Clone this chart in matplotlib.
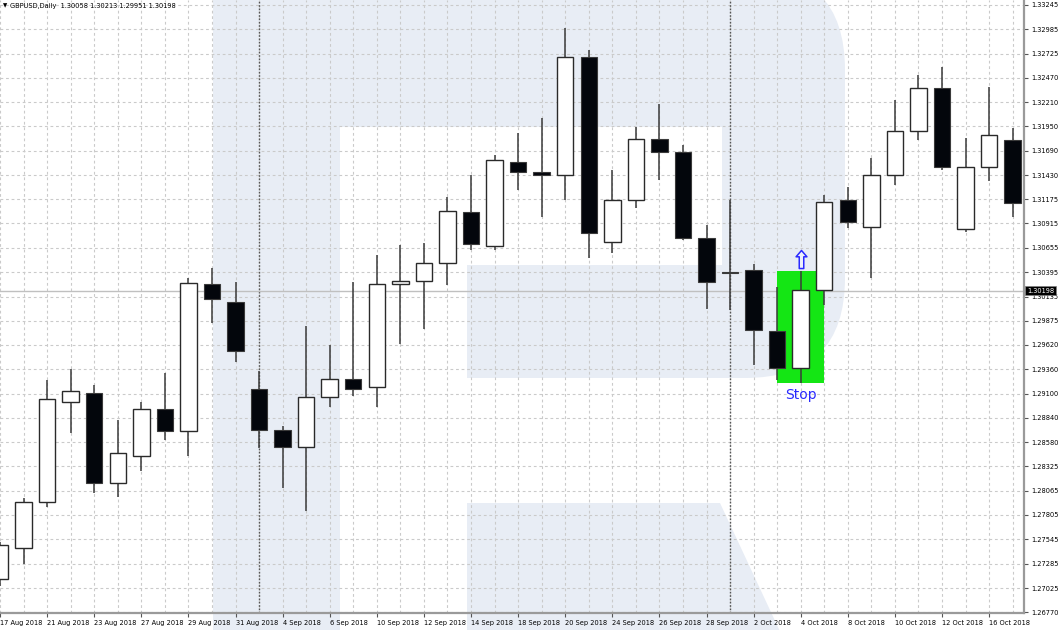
import matplotlib
matplotlib.use("Agg")
import matplotlib.pyplot as plt
import matplotlib.patches as mpatches
from matplotlib.path import Path
import numpy as np

# GBPUSD daily bars, 17 Aug 2018 .. 17 Oct 2018
dates = ["17 Aug", "20 Aug", "21 Aug", "22 Aug", "23 Aug", "24 Aug", "27 Aug", "28 Aug",
         "29 Aug", "30 Aug", "31 Aug", "3 Sep", "4 Sep", "5 Sep", "6 Sep", "7 Sep",
         "10 Sep", "11 Sep", "12 Sep", "13 Sep", "14 Sep", "17 Sep", "18 Sep", "19 Sep",
         "20 Sep", "21 Sep", "24 Sep", "25 Sep", "26 Sep", "27 Sep", "28 Sep", "1 Oct",
         "2 Oct", "3 Oct", "4 Oct", "5 Oct", "8 Oct", "9 Oct", "10 Oct", "11 Oct",
         "12 Oct", "15 Oct", "16 Oct", "17 Oct"]
opens = [1.27122, 1.27450, 1.27940, 1.29007, 1.29110, 1.28143, 1.28438, 1.28932,
         1.28698, 1.30269, 1.30074, 1.29149, 1.28715, 1.28534, 1.29060, 1.29259,
         1.29174, 1.30269, 1.30304, 1.30490, 1.31037, 1.30674, 1.31570, 1.31464,
         1.31432, 1.32690, 1.30717, 1.31165, 1.31816, 1.31677, 1.30760, 1.30397,
         1.30418, 1.29771, 1.29370, 1.30205, 1.31165, 1.30877, 1.31432, 1.31901,
         1.32360, 1.30852, 1.31514, 1.31805]
highs = [1.27520, 1.27983, 1.29245, 1.29359, 1.29192, 1.28818, 1.29014, 1.29316,
         1.30333, 1.30440, 1.30287, 1.29344, 1.28757, 1.29821, 1.29618, 1.30294,
         1.30578, 1.30685, 1.30706, 1.31197, 1.31432, 1.31645, 1.31880, 1.32040,
         1.32998, 1.32765, 1.31485, 1.31944, 1.32189, 1.31752, 1.30898, 1.31165,
         1.30482, 1.30240, 1.30411, 1.31219, 1.31304, 1.31613, 1.32232, 1.32498,
         1.32584, 1.31830, 1.32367, 1.31930]
lows = [1.27050, 1.27282, 1.27894, 1.28676, 1.28036, 1.27994, 1.28278, 1.28605,
        1.28438, 1.29853, 1.29440, 1.28523, 1.28096, 1.27851, 1.28954, 1.29074,
        1.28960, 1.29629, 1.29789, 1.30258, 1.30632, 1.30632, 1.31272, 1.30984,
        1.31165, 1.30546, 1.30600, 1.31080, 1.31378, 1.30738, 1.30002, 1.29992,
        1.29405, 1.29245, 1.29210, 1.30045, 1.30866, 1.30333, 1.31325, 1.31805,
        1.31485, 1.30827, 1.31368, 1.30987]
closes = [1.27485, 1.27944, 1.29039, 1.29131, 1.28143, 1.28463, 1.28932, 1.28698,
          1.30280, 1.30109, 1.29554, 1.28712, 1.28534, 1.29060, 1.29259, 1.29149,
          1.30269, 1.30304, 1.30490, 1.31048, 1.30696, 1.31592, 1.31464, 1.31432,
          1.32690, 1.30813, 1.31165, 1.31816, 1.31677, 1.30760, 1.30290, 1.30386,
          1.29778, 1.29370, 1.30205, 1.31144, 1.30930, 1.31432, 1.31901, 1.32360,
          1.31517, 1.31514, 1.31858, 1.31130]

price_ticks = [1.33245, 1.32985, 1.32725, 1.32470, 1.32210, 1.31950, 1.31690, 1.31430,
               1.31175, 1.30915, 1.30655, 1.30395, 1.30135, 1.29875, 1.29620, 1.29360,
               1.29100, 1.28840, 1.28580, 1.28325, 1.28065, 1.27805, 1.27545, 1.27285,
               1.27025, 1.26770]
current_price = 1.30198
month_starts = ["3 Sep", "1 Oct"]
signal_bar = "4 Oct"
arrow_price = 1.30536
header = "GBPUSD,Daily  1.30058 1.30213 1.29951 1.30198"

W, H = 1060, 630
fig = plt.figure(figsize=(W / 100, H / 100), dpi=100)
fig.patch.set_facecolor("white")

# background watermark (pixel coordinates)
bg = fig.add_axes([0, 0, 1, 1], zorder=-5)
bg.set_xlim(0, W)
bg.set_ylim(H, 0)
bg.axis("off")
wm = "#e8edf5"
bg.add_patch(mpatches.FancyBboxPatch((313, 70), 432, 208, boxstyle="round,pad=100",
                                     color=wm, lw=0))
bg.add_patch(mpatches.Rectangle((213, -10), 400, 120, color=wm, lw=0))
bg.add_patch(mpatches.Rectangle((340, 127), 382, 138, color="white", lw=0))
bg.add_patch(mpatches.Rectangle((340, 265), 127, 113, color="white", lw=0))
bg.add_patch(mpatches.Rectangle((213, -10), 127, 650, color=wm, lw=0))
bg.add_patch(mpatches.Polygon([(467, 503), (720, 503), (784, 640), (467, 640)],
                              closed=True, color=wm, lw=0))

ax = fig.add_axes([0, 17 / H, 1024 / W, 613 / H])
ax.set_facecolor("none")

n = len(dates)
x = np.arange(n)
o = np.array(opens)
h = np.array(highs)
l = np.array(lows)
c = np.array(closes)

ax.set_xlim(0, 1024 / 23.55)
ax.set_ylim(1.33245 - 608 / 9375, 1.33245 + 5 / 9375)

# grid
for xi in x:
    ax.axvline(xi, color="#cacaca", lw=0.8, ls=(0, (2.5, 2.5)), zorder=0)
for p in price_ticks:
    ax.axhline(p, color="#cacaca", lw=0.8, ls=(0, (2.5, 2.5)), zorder=0)
for d in month_starts:
    ax.axvline(dates.index(d), color="#555555", lw=1.0, ls=(0, (1.2, 1.2)), zorder=0.5)

ax.axhline(current_price, color="#c0c0c0", lw=1.0, zorder=0.6)

# signal box
si = dates.index(signal_bar)
ax.add_patch(mpatches.Rectangle((si - 1, lows[si]), 2, highs[si] - lows[si],
                                facecolor="#14e614", edgecolor="none", zorder=1))

# candles
ax.vlines(x, l, h, color="#3a3a3a", lw=1.1, zorder=2)
up = c >= o
body_bot = np.minimum(o, c)
body_h = np.maximum(np.abs(c - o), 0.00012)
ax.bar(x[up], body_h[up], bottom=body_bot[up], width=0.7, color="white",
       edgecolor="#2a2a2a", linewidth=1.0, zorder=3)
dn = ~up
ax.bar(x[dn], body_h[dn], bottom=body_bot[dn], width=0.7, color="#03060c",
       edgecolor="#3a3a3a", linewidth=0.8, zorder=3)

# arrow + Stop label
arrow = Path([(0, 1), (0.6, 0.3), (0.25, 0.3), (0.25, -1), (-0.25, -1), (-0.25, 0.3),
              (-0.6, 0.3), (0, 1)],
             [Path.MOVETO] + [Path.LINETO] * 6 + [Path.CLOSEPOLY])
ax.plot([si], [arrow_price], marker=arrow, markersize=13, markerfacecolor="#eef2fa",
        markeredgecolor="#2a2aff", markeredgewidth=1.1, zorder=4)
ax.text(si, lows[si] - 0.0012, "Stop", color="#2a2aff", fontsize=10,
        ha="center", va="center", zorder=4)

# axes styling
for s in ["top", "left"]:
    ax.spines[s].set_visible(False)
for s in ["right", "bottom"]:
    ax.spines[s].set_color("#9a9a9a")
    ax.spines[s].set_linewidth(1.6)

ax.yaxis.tick_right()
ax.set_yticks(price_ticks)
ax.set_yticklabels([f"{p:.5f}" for p in price_ticks])
ax.tick_params(axis="y", length=3, width=0.8, color="#555555", pad=2,
               labelsize=4.8, labelcolor="black")

lab_idx = list(range(0, n, 2))
ax.set_xticks(lab_idx)
ax.set_xticklabels([dates[i] + " 2018" for i in lab_idx])
ax.tick_params(axis="x", length=3, width=0.8, color="#555555", pad=2,
               labelsize=4.8, labelcolor="black")
for t in ax.get_xticklabels():
    t.set_horizontalalignment("left")

ax.text(1.003, current_price, "1.30198", transform=ax.get_yaxis_transform(),
        fontsize=4.8, color="white", ha="left", va="center", zorder=10,
        bbox=dict(boxstyle="square,pad=0.25", facecolor="black", edgecolor="#808080", lw=0.5),
        clip_on=False)

fig.text(3 / W, 1 - 6 / H, "▼", fontsize=4, ha="left", va="center", color="black")
fig.text(10 / W, 1 - 6 / H, header, fontsize=4.8, ha="left", va="center", color="black")

fig.savefig("out.png", dpi=100)
